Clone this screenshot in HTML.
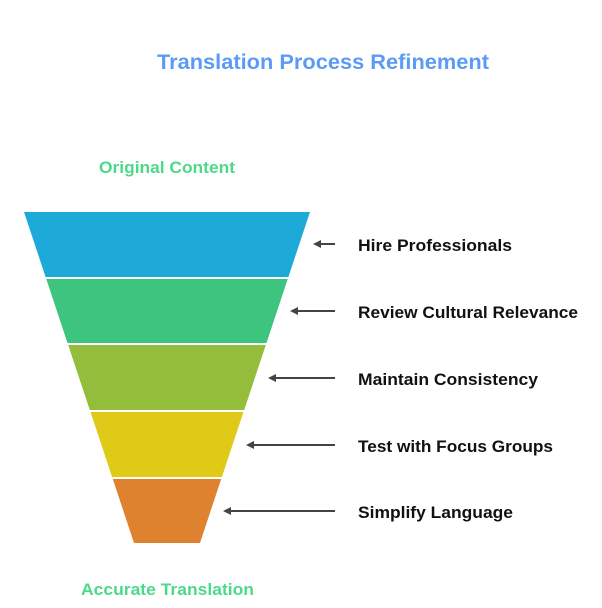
<!DOCTYPE html>
<html><head><meta charset="utf-8"><style>
html,body{margin:0;padding:0;background:#fff;}
svg{display:block;}
text{font-family:"Liberation Sans",sans-serif;font-weight:bold;}
</style></head><body>
<svg width="602" height="608" viewBox="0 0 602 608" xmlns="http://www.w3.org/2000/svg">
<text x="157" y="69" font-size="21" fill="#5b9bf5" textLength="332" lengthAdjust="spacingAndGlyphs">Translation Process Refinement</text>
<text x="99" y="173" font-size="17" fill="#4dd98a" textLength="136" lengthAdjust="spacingAndGlyphs">Original Content</text>
<text x="81" y="595" font-size="17" fill="#4dd98a" textLength="173" lengthAdjust="spacingAndGlyphs">Accurate Translation</text>

<polygon points="24,212 310,212 288.4,277 45.6,277" fill="#1eaad9"/>
<polygon points="46.3,279 287.7,279 266.5,343 67.5,343" fill="#3dc47f"/>
<polygon points="68.2,345 265.8,345 244.2,410 89.8,410" fill="#93bd3a"/>
<polygon points="90.5,412 243.5,412 221.9,477 112.1,477" fill="#dfcb17"/>
<polygon points="112.8,479 221.2,479 200,543 134,543" fill="#df8230"/>

<g stroke="#444" stroke-width="2" fill="#444">
<line x1="318" y1="244" x2="335" y2="244"/>
<line x1="295" y1="311" x2="335" y2="311"/>
<line x1="273" y1="378" x2="335" y2="378"/>
<line x1="251" y1="445" x2="335" y2="445"/>
<line x1="228" y1="511" x2="335" y2="511"/>
</g>
<g fill="#444">
<polygon points="313,244 321,240 321,248"/>
<polygon points="290,311 298,307 298,315"/>
<polygon points="268,378 276,374 276,382"/>
<polygon points="246,445 254,441 254,449"/>
<polygon points="223,511 231,507 231,515"/>
</g>

<g font-size="17" fill="#111">
<text x="358" y="251" textLength="154" lengthAdjust="spacingAndGlyphs">Hire Professionals</text>
<text x="358" y="318" textLength="220" lengthAdjust="spacingAndGlyphs">Review Cultural Relevance</text>
<text x="358" y="385" textLength="180" lengthAdjust="spacingAndGlyphs">Maintain Consistency</text>
<text x="358" y="452" textLength="195" lengthAdjust="spacingAndGlyphs">Test with Focus Groups</text>
<text x="358" y="518" textLength="155" lengthAdjust="spacingAndGlyphs">Simplify Language</text>
</g>
</svg>
</body></html>
